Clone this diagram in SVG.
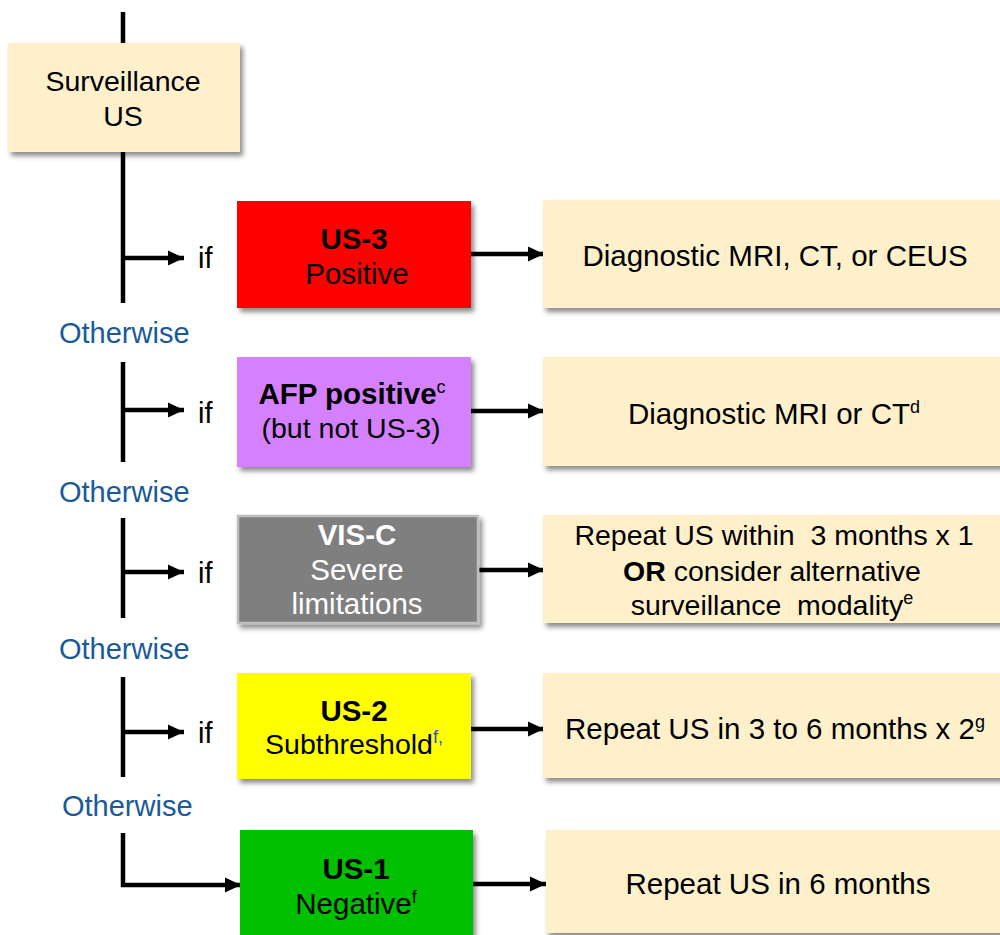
<svg xmlns="http://www.w3.org/2000/svg" width="1000" height="935" viewBox="0 0 1000 935">
<style>
text{font-family:"Liberation Sans",Arial,sans-serif;font-size:29.5px;fill:#000;text-anchor:middle}
.b{font-weight:bold}
.w{fill:#fff}
.oth{fill:#1A5A98;text-anchor:start;font-size:29px}
.if{text-anchor:start;font-size:29px}
.sup{font-size:18px;font-weight:normal}
.res{fill:#FFF0CC}
.sm{font-size:28.5px}
.ln{stroke:#000;stroke-width:4.5;fill:none}
</style>
<defs>
<filter id="sh" x="-10%" y="-10%" width="130%" height="140%">
<feDropShadow dx="3" dy="4" stdDeviation="2.5" flood-color="#000" flood-opacity="0.45"/>
</filter>
<marker id="ah" markerUnits="userSpaceOnUse" markerWidth="18" markerHeight="18" refX="16" refY="9" orient="auto">
<path d="M0,1.5 L16,9 L0,16.5 Z" fill="#000"/>
</marker>
</defs>
<g id="connectors">
<line class="ln" x1="123" y1="12" x2="123" y2="44"/>
<line class="ln" x1="123" y1="150" x2="123" y2="303"/>
<line class="ln" x1="123" y1="258" x2="184" y2="258" marker-end="url(#ah)"/>
<line class="ln" x1="471" y1="254" x2="544" y2="254" marker-end="url(#ah)"/>
<line class="ln" x1="123" y1="362" x2="123" y2="462"/>
<line class="ln" x1="123" y1="410" x2="184" y2="410" marker-end="url(#ah)"/>
<line class="ln" x1="471" y1="411" x2="544" y2="411" marker-end="url(#ah)"/>
<line class="ln" x1="123" y1="518" x2="123" y2="618"/>
<line class="ln" x1="123" y1="572" x2="184" y2="572" marker-end="url(#ah)"/>
<line class="ln" x1="478" y1="570" x2="544" y2="570" marker-end="url(#ah)"/>
<line class="ln" x1="123" y1="677" x2="123" y2="777"/>
<line class="ln" x1="123" y1="732" x2="184" y2="732" marker-end="url(#ah)"/>
<line class="ln" x1="471" y1="729" x2="544" y2="729" marker-end="url(#ah)"/>
<path class="ln" d="M123,833 V885 H241" marker-end="url(#ah)"/>
<line class="ln" x1="473" y1="884" x2="546" y2="884" marker-end="url(#ah)"/>
</g>
<g id="labels">
<text class="if" x="198" y="268">if</text>
<text class="if" x="198" y="423">if</text>
<text class="if" x="198" y="583">if</text>
<text class="if" x="198" y="743">if</text>
<text class="oth" x="59" y="343">Otherwise</text>
<text class="oth" x="59" y="502">Otherwise</text>
<text class="oth" x="59" y="659">Otherwise</text>
<text class="oth" x="62" y="816">Otherwise</text>
</g>
<g id="surveillance">
<rect x="8" y="43" width="232" height="109" fill="#FFF0CC" filter="url(#sh)"/>
<text class="sm" x="123" y="91">Surveillance</text>
<text class="sm" x="123" y="126">US</text>
</g>
<g id="us3">
<rect x="237" y="201" width="234" height="107" fill="#FF0000" filter="url(#sh)"/>
<text class="b" x="354" y="249">US-3</text>
<text x="357" y="284">Positive</text>
</g>
<g id="res1">
<rect class="res" x="543" y="200" width="470" height="108" filter="url(#sh)"/>
<text x="775" y="266">Diagnostic MRI, CT, or CEUS</text>
</g>
<g id="afp">
<rect x="237" y="357" width="234" height="110" fill="#D580FF" filter="url(#sh)"/>
<text class="b" x="352" y="404">AFP positive<tspan class="sup" dy="-11">c</tspan></text>
<text class="sm" x="351" y="438">(but not US-3)</text>
</g>
<g id="res2">
<rect class="res" x="543" y="357" width="470" height="109" filter="url(#sh)"/>
<text x="774" y="424">Diagnostic MRI or CT<tspan class="sup" dy="-11">d</tspan></text>
</g>
<g id="visc">
<rect x="238" y="516" width="240" height="107" fill="#7F7F7F" stroke="#BFBFBF" stroke-width="2.5" filter="url(#sh)"/>
<text class="b w" x="357" y="545">VIS-C</text>
<text class="w" x="357" y="580">Severe</text>
<text class="w" x="357" y="614">limitations</text>
</g>
<g id="res3">
<rect class="res" x="543" y="515" width="470" height="108" filter="url(#sh)"/>
<text class="sm" x="774" y="545" xml:space="preserve">Repeat US within  3 months x 1</text>
<text class="sm" x="772" y="581"><tspan class="b">OR</tspan> consider alternative</text>
<text class="sm" x="772" y="615" xml:space="preserve">surveillance  modality<tspan class="sup" dy="-11">e</tspan></text>
</g>
<g id="us2">
<rect x="237" y="673" width="234" height="106" fill="#FFFF00" filter="url(#sh)"/>
<text class="b" x="354" y="721">US-2</text>
<text class="sm" x="354" y="754">Subthreshold<tspan class="sup" dy="-11" fill="#2B4FE0">f,</tspan></text>
</g>
<g id="res4">
<rect class="res" x="543" y="673" width="470" height="105" filter="url(#sh)"/>
<text x="775" y="739">Repeat US in 3 to 6 months x 2<tspan class="sup" dy="-11">g</tspan></text>
</g>
<g id="us1">
<rect x="240" y="830" width="233" height="115" fill="#00C000" filter="url(#sh)"/>
<text class="b" x="356" y="879">US-1</text>
<text x="356" y="914">Negative<tspan class="sup" dy="-11">f</tspan></text>
</g>
<g id="res5">
<rect class="res" x="546" y="830" width="470" height="103" filter="url(#sh)"/>
<text x="778" y="894">Repeat US in 6 months</text>
</g>
</svg>
